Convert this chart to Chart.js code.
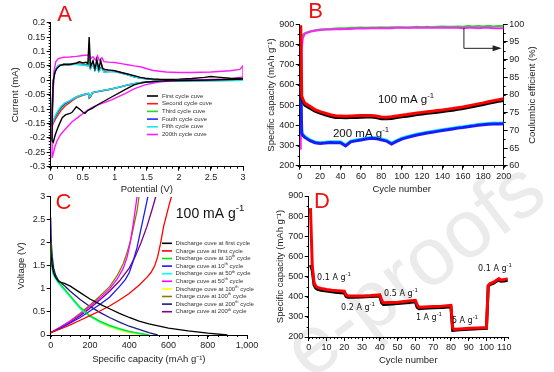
<!DOCTYPE html>
<html>
<head>
<meta charset="utf-8">
<script src="https://cdn.jsdelivr.net/npm/chart.js@4.4.0/dist/chart.umd.min.js"></script>
<style>
  body { margin: 0; background: #fff; }
  #wrap { position: relative; width: 554px; height: 372px; overflow: hidden; background: #fff; }
  canvas { position: absolute; left: 0; top: 0; }
</style>
</head>
<body>
<div id="wrap">
  <canvas id="wm" width="554" height="372"></canvas>
  <canvas id="cA" width="554" height="372"></canvas>
  <canvas id="cB" width="554" height="372"></canvas>
  <canvas id="cC" width="554" height="372"></canvas>
  <canvas id="cD" width="554" height="372"></canvas>
</div>
<script>
const FONT = '"Liberation Sans", Arial, sans-serif';

// ---- A: cyclic voltammetry (potential V, current mA), each loop goes up then back ----
const aFirstV = [0.02, 0.025, 0.04, 0.07, 0.1, 0.15, 0.2, 0.3, 0.4, 0.45, 0.5, 0.55, 0.58, 0.6, 0.62, 0.66, 0.69, 0.72, 0.75, 0.78, 0.81, 0.85, 0.9, 1.0, 1.1, 1.2, 1.3, 1.4, 1.5, 1.6, 1.8, 2.0, 2.2, 2.4, 2.5, 2.6, 2.8, 3.0,
  3.0, 2.8, 2.5, 2.0, 1.7, 1.5, 1.4, 1.3, 1.16, 0.95, 0.74, 0.64, 0.58, 0.535, 0.5, 0.45, 0.4, 0.33, 0.3, 0.23, 0.18, 0.12, 0.07, 0.04, 0.02];
const aFirstI = [-0.21, -0.1, 0.0, 0.03, 0.042, 0.052, 0.055, 0.055, 0.06, 0.064, 0.06, 0.063, 0.058, 0.15, 0.048, 0.068, 0.04, 0.072, 0.04, 0.068, 0.04, 0.038, 0.036, 0.033, 0.027, 0.022, 0.016, 0.01, 0.006, 0.004, 0.003, 0.004, 0.006, 0.01, 0.013, 0.011, 0.007, 0.006,
  0.004, 0.003, 0.001, -0.001, -0.003, -0.006, -0.01, -0.016, -0.032, -0.058, -0.084, -0.098, -0.104, -0.115, -0.11, -0.1, -0.092, -0.112, -0.115, -0.12, -0.13, -0.16, -0.19, -0.215, -0.21];

const aCycV = [0.02, 0.03, 0.05, 0.08, 0.12, 0.2, 0.3, 0.4, 0.5, 0.58, 0.6, 0.62, 0.66, 0.69, 0.72, 0.75, 0.8, 0.83, 0.9, 1.0, 1.1, 1.2, 1.3, 1.4, 1.5, 1.7, 2.0, 2.5, 3.0,
  3.0, 2.5, 2.0, 1.6, 1.4, 1.3, 1.2, 1.1, 1.0, 0.9, 0.8, 0.7, 0.65, 0.62, 0.6, 0.59, 0.5, 0.43, 0.38, 0.33, 0.28, 0.22, 0.16, 0.12, 0.08, 0.05, 0.03, 0.02];
const aSecondI = [-0.16, -0.06, 0.015, 0.038, 0.05, 0.056, 0.056, 0.057, 0.056, 0.055, 0.072, 0.045, 0.06, 0.04, 0.055, 0.035, 0.05, 0.032, 0.033, 0.032, 0.027, 0.02, 0.013, 0.009, 0.006, 0.003, 0.001, 0.002, 0.004,
  0.001, 0.0, -0.002, -0.004, -0.008, -0.012, -0.017, -0.023, -0.028, -0.033, -0.037, -0.041, -0.044, -0.058, -0.062, -0.047, -0.052, -0.058, -0.064, -0.072, -0.08, -0.09, -0.105, -0.118, -0.132, -0.145, -0.155, -0.16];
const aThirdI = [-0.15, -0.05, 0.018, 0.039, 0.051, 0.055, 0.055, 0.056, 0.054, 0.052, 0.067, 0.042, 0.057, 0.037, 0.052, 0.032, 0.047, 0.03, 0.031, 0.031, 0.026, 0.02, 0.012, 0.008, 0.005, 0.002, 0.0, 0.001, 0.003,
  0.0, -0.001, -0.002, -0.004, -0.008, -0.012, -0.016, -0.022, -0.027, -0.032, -0.036, -0.04, -0.043, -0.056, -0.06, -0.046, -0.051, -0.056, -0.061, -0.068, -0.075, -0.084, -0.097, -0.11, -0.124, -0.138, -0.147, -0.15];
const aFourthI = [-0.15, -0.05, 0.019, 0.04, 0.051, 0.055, 0.055, 0.056, 0.054, 0.051, 0.066, 0.041, 0.056, 0.036, 0.051, 0.031, 0.046, 0.029, 0.03, 0.03, 0.025, 0.019, 0.012, 0.008, 0.005, 0.002, 0.0, 0.001, 0.003,
  0.0, -0.001, -0.002, -0.004, -0.008, -0.012, -0.016, -0.022, -0.027, -0.032, -0.036, -0.04, -0.043, -0.056, -0.059, -0.045, -0.05, -0.055, -0.06, -0.067, -0.074, -0.081, -0.094, -0.107, -0.121, -0.137, -0.148, -0.152];
const aFifthI = [-0.155, -0.05, 0.02, 0.04, 0.052, 0.055, 0.055, 0.055, 0.053, 0.05, 0.065, 0.04, 0.055, 0.035, 0.05, 0.03, 0.045, 0.028, 0.03, 0.03, 0.025, 0.019, 0.012, 0.008, 0.005, 0.002, 0.0, 0.001, 0.003,
  0.0, -0.001, -0.002, -0.004, -0.008, -0.012, -0.016, -0.022, -0.027, -0.032, -0.036, -0.04, -0.043, -0.055, -0.058, -0.045, -0.05, -0.055, -0.06, -0.066, -0.072, -0.078, -0.09, -0.103, -0.118, -0.135, -0.148, -0.155];

const a200V = [0.02, 0.03, 0.05, 0.08, 0.12, 0.2, 0.3, 0.4, 0.5, 0.58, 0.6, 0.62, 0.66, 0.7, 0.73, 0.76, 0.8, 0.83, 0.9, 1.0, 1.1, 1.2, 1.3, 1.4, 1.5, 1.6, 1.8, 2.0, 2.2, 2.5, 2.8, 2.95, 3.0,
  3.0, 2.8, 2.5, 2.0, 1.68, 1.47, 1.3, 1.16, 0.95, 0.74, 0.64, 0.535, 0.43, 0.33, 0.22, 0.15, 0.1, 0.067, 0.04, 0.02];
const a200I = [-0.27, -0.1, 0.03, 0.065, 0.075, 0.08, 0.081, 0.083, 0.086, 0.088, 0.092, 0.075, 0.082, 0.07, 0.085, 0.068, 0.078, 0.065, 0.063, 0.062, 0.058, 0.054, 0.05, 0.047, 0.04, 0.034, 0.029, 0.027, 0.027, 0.029, 0.033, 0.038, 0.05,
  0.012, 0.005, 0.003, 0.0, -0.006, -0.016, -0.03, -0.046, -0.068, -0.085, -0.095, -0.11, -0.128, -0.145, -0.172, -0.19, -0.21, -0.23, -0.255, -0.27];

// ---- B: cycling at 100 / 200 mA g-1 ----
const bCycles = [1, 2, 3, 5, 10, 15, 20, 25, 30, 35, 40, 45, 50, 55, 60, 65, 70, 75, 80, 85, 90, 95, 100, 105, 110, 115, 120, 125, 130, 135, 140, 145, 150, 155, 160, 165, 170, 175, 180, 185, 190, 195, 200];
const bRed100 = [895, 545, 530, 510, 494, 478, 468, 460, 452, 447, 446, 445, 446, 447, 448, 449, 449, 446, 441, 440, 442, 446, 450, 453, 457, 461, 464, 467, 470, 473, 476, 480, 483, 487, 491, 496, 501, 506, 511, 517, 522, 527, 531];
const bBlack100 = [555, 535, 520, 500, 485, 470, 460, 452, 444, 439, 438, 437, 438, 439, 440, 441, 441, 438, 433, 432, 434, 438, 442, 445, 449, 453, 456, 459, 462, 465, 468, 472, 475, 479, 483, 488, 493, 498, 503, 509, 514, 519, 523];
const bCyan200 = [620, 368, 355, 345, 328, 318, 314, 316, 319, 318, 318, 302, 322, 327, 331, 336, 340, 338, 332, 326, 312, 324, 336, 343, 350, 356, 361, 366, 370, 374, 378, 382, 386, 390, 393, 397, 400, 404, 407, 409, 411, 410, 412];
const bBlue200 = [600, 360, 350, 340, 324, 314, 310, 312, 315, 314, 314, 298, 318, 323, 327, 332, 336, 334, 328, 322, 307, 320, 332, 339, 346, 352, 357, 362, 366, 370, 374, 378, 382, 386, 389, 393, 396, 400, 403, 405, 407, 406, 408];
const bCeGreen = [96, 96.5, 97, 97.5, 98, 98.3, 98.5, 98.6, 98.7, 98.8, 98.9, 98.9, 99, 99, 99.1, 99, 99.1, 99.1, 99.2, 99.1, 99.2, 99.2, 99.2, 99.1, 99.2, 99.3, 99.2, 99.3, 99.2, 99.3, 99.4, 99.3, 99.3, 99.4, 99.3, 99.5, 99.4, 99.5, 99.4, 99.6, 99.4, 99.5, 99.6];
const bCeMagenta = [64.5, 93, 96, 97.3, 97.9, 98.2, 98.4, 98.5, 98.5, 98.6, 98.6, 98.7, 98.7, 98.8, 98.8, 98.8, 98.9, 98.9, 98.9, 98.9, 98.9, 99, 99, 99, 99, 99, 99, 99, 99, 99, 99, 99, 99, 99, 98.9, 99, 99, 98.9, 99, 99, 98.9, 98.9, 98.9];

// ---- C: discharge / charge profiles (capacity mAh g-1, voltage V) ----
const cDis1Cap = [0, 3, 8, 15, 25, 40, 70, 100, 150, 200, 250, 300, 350, 400, 450, 500, 600, 700, 800, 900];
const cDis1V = [2.0, 1.7, 1.5, 1.35, 1.25, 1.16, 1.12, 1.06, 0.92, 0.78, 0.67, 0.57, 0.47, 0.38, 0.3, 0.24, 0.15, 0.09, 0.04, 0.0];
const cChg1Cap = [0, 50, 100, 150, 200, 250, 300, 350, 400, 450, 490, 510, 530, 545, 560, 575, 590, 605, 615];
const cChg1V = [0.05, 0.13, 0.22, 0.32, 0.42, 0.52, 0.63, 0.76, 0.9, 1.08, 1.25, 1.35, 1.5, 1.7, 2.0, 2.35, 2.6, 2.85, 3.0];
const cDis10Cap = [0, 3, 10, 20, 40, 70, 100, 150, 200, 250, 300, 350, 400, 450, 500];
const cDis10V = [1.9, 1.6, 1.4, 1.28, 1.15, 1.0, 0.85, 0.6, 0.42, 0.3, 0.21, 0.14, 0.08, 0.04, 0.005];
const cChg10Cap = [0, 50, 100, 150, 200, 250, 300, 350, 380, 400, 420, 440, 460, 480, 495];
const cChg10V = [0.05, 0.15, 0.26, 0.38, 0.52, 0.66, 0.82, 1.05, 1.2, 1.35, 1.6, 1.9, 2.3, 2.7, 3.0];
const cDis50Cap = [0, 3, 10, 20, 40, 70, 100, 150, 200, 250, 300, 350, 400, 450, 490];
const cDis50V = [1.8, 1.55, 1.35, 1.25, 1.12, 0.97, 0.82, 0.57, 0.4, 0.28, 0.19, 0.12, 0.07, 0.03, 0.0];
const cChg50Cap = [0, 50, 100, 150, 200, 250, 300, 340, 370, 390, 405, 420, 430, 440];
const cChg50V = [0.05, 0.17, 0.3, 0.45, 0.62, 0.8, 1.0, 1.22, 1.45, 1.7, 2.0, 2.4, 2.7, 3.0];
const cDis100Cap = [0, 3, 10, 20, 40, 70, 100, 150, 200, 250, 300, 350, 400, 440, 470];
const cDis100V = [2.0, 1.6, 1.38, 1.26, 1.13, 0.98, 0.83, 0.58, 0.4, 0.27, 0.17, 0.1, 0.05, 0.02, 0.0];
const cChg100Cap = [0, 50, 100, 150, 200, 250, 300, 340, 370, 390, 410, 425, 440, 450];
const cChg100V = [0.05, 0.17, 0.31, 0.47, 0.65, 0.84, 1.05, 1.3, 1.55, 1.8, 2.1, 2.4, 2.7, 3.0];
const cDis200Cap = [0, 3, 8, 15, 25, 40, 70, 100, 150, 200, 250, 300, 350, 400, 450, 500, 545];
const cDis200V = [2.55, 2.0, 1.7, 1.45, 1.3, 1.18, 1.07, 0.95, 0.77, 0.62, 0.49, 0.38, 0.28, 0.19, 0.12, 0.05, 0.0];
const cChg200Cap = [0, 50, 100, 150, 200, 250, 300, 350, 400, 430, 460, 490, 515, 535];
const cChg200V = [0.05, 0.16, 0.28, 0.42, 0.58, 0.76, 0.95, 1.17, 1.45, 1.7, 2.0, 2.35, 2.7, 3.0];

// ---- D: rate capability ----
const dCycles = [1, 2, 3, 4, 5, 7, 10, 13, 16, 20, 21, 22, 25, 30, 35, 40, 41, 42, 45, 50, 55, 60, 61, 62, 65, 70, 75, 80, 81, 82, 85, 90, 95, 100, 101, 102, 104, 105, 107, 108, 110, 112, 113];
const dRed = [840, 555, 470, 452, 446, 441, 436, 432, 430, 427, 410, 404, 403, 404, 406, 409, 385, 370, 371, 373, 377, 382, 360, 348, 349, 351, 353, 357, 245, 238, 240, 243, 245, 247, 455, 465, 472, 478, 490, 482, 485, 490, 484];
const dBlack = [557, 530, 458, 442, 437, 432, 428, 424, 421, 419, 402, 397, 397, 399, 401, 403, 370, 362, 363, 366, 370, 375, 347, 341, 343, 345, 347, 350, 233, 234, 236, 239, 241, 243, 452, 460, 467, 473, 483, 477, 478, 482, 477];

// text with ^{...} superscripts, vertically centred on y
function rich(ctx, str, x, y, size, family, color, align) {
  const parts = str.split(/\^\{([^}]*)\}/);
  const sup = size * 0.68;
  let w = 0;
  parts.forEach((t, i) => { ctx.font = (i % 2 ? sup : size) + 'px ' + family; w += ctx.measureText(t).width; });
  let cx = align === 'center' ? x - w / 2 : align === 'right' ? x - w : x;
  ctx.fillStyle = color;
  ctx.textAlign = 'left';
  ctx.textBaseline = 'middle';
  parts.forEach((t, i) => {
    ctx.font = (i % 2 ? sup : size) + 'px ' + family;
    ctx.fillText(t, cx, i % 2 ? y - size * 0.38 : y);
    cx += ctx.measureText(t).width;
  });
}

const decor = {
  id: 'decor',
  afterDraw(chart, args, o) {
    const ctx = chart.ctx;
    ctx.save();
    // minor ticks
    ctx.strokeStyle = '#000';
    ctx.lineWidth = 1;
    (o.minor || []).forEach(m => {
      const s = chart.scales[m.axis];
      const n = Math.round((s.max - s.min) / m.step);
      ctx.beginPath();
      for (let i = 0; i <= n; i++) {
        const p = Math.round(s.getPixelForValue(s.min + i * m.step)) + 0.5;
        if (s.isHorizontal()) { ctx.moveTo(p, s.top); ctx.lineTo(p, s.top + m.len); }
        else if (s.position === 'left') { ctx.moveTo(s.right - m.len, p); ctx.lineTo(s.right, p); }
        else { ctx.moveTo(s.left, p); ctx.lineTo(s.left + m.len, p); }
      }
      ctx.stroke();
    });
    // arrow
    if (o.arrow) {
      const xs = chart.scales[o.arrow.xAxis], ys = chart.scales[o.arrow.yAxis];
      const pts = o.arrow.pts.map(p => [xs.getPixelForValue(p[0]), ys.getPixelForValue(p[1])]);
      ctx.strokeStyle = '#222';
      ctx.beginPath();
      pts.forEach((p, i) => i ? ctx.lineTo(p[0], p[1]) : ctx.moveTo(p[0], p[1]));
      ctx.stroke();
      const [x1, y1] = pts[pts.length - 2], [x2, y2] = pts[pts.length - 1];
      const a = Math.atan2(y2 - y1, x2 - x1);
      ctx.fillStyle = '#222';
      ctx.beginPath();
      ctx.moveTo(x2 + 2 * Math.cos(a), y2 + 2 * Math.sin(a));
      ctx.lineTo(x2 - 7 * Math.cos(a) + 3 * Math.sin(a), y2 - 7 * Math.sin(a) - 3 * Math.cos(a));
      ctx.lineTo(x2 - 7 * Math.cos(a) - 3 * Math.sin(a), y2 - 7 * Math.sin(a) + 3 * Math.cos(a));
      ctx.fill();
    }
    // legend drawn inside the plot
    if (o.legend) {
      const L = o.legend;
      chart.data.datasets.forEach((ds, i) => {
        const y = L.y + i * L.row;
        ctx.strokeStyle = ds.borderColor;
        ctx.lineWidth = L.lw;
        ctx.beginPath();
        ctx.moveTo(L.x, y);
        ctx.lineTo(L.x + L.len, y);
        ctx.stroke();
        rich(ctx, ds.label, L.x + L.len + L.gap, y, L.size, FONT, '#333', 'left');
      });
    }
    // free texts
    (o.texts || []).forEach(t => {
      ctx.save();
      ctx.translate(t.x, t.y);
      if (t.rot) ctx.rotate(t.rot);
      rich(ctx, t.text, 0, 0, t.size, t.font || FONT, t.color || '#111', 'center');
      ctx.restore();
    });
    ctx.restore();
  }
};
Chart.register(decor);

function pairs(xs, ys) { return xs.map((x, i) => ({ x: x, y: ys[i] })); }
function line(label, xs, ys, color, width, order, yAxisID) {
  return { label, data: pairs(xs, ys), borderColor: color, backgroundColor: color, borderWidth: width,
    pointRadius: 0, fill: false, tension: 0, order: order, yAxisID: yAxisID || 'y' };
}
function num(v) { return String(+v.toFixed(2)); }

function axis(pos, min, max, step, size, title, titlePad, fmt) {
  const a = {
    type: 'linear', position: pos, min: min, max: max,
    border: { display: true, color: '#000', width: 1 },
    grid: { drawOnChartArea: false, drawTicks: true, tickLength: 4, tickColor: '#000', tickWidth: 1 },
    ticks: { stepSize: step, includeBounds: false, autoSkip: false, maxRotation: 0, padding: 1.5,
      color: '#222', font: { family: FONT, size: 9 }, callback: fmt || num },
    afterFit: s => { if (pos === 'bottom') s.height = size; else s.width = size; }
  };
  if (title) a.title = { display: true, text: title, color: '#222', font: { family: FONT, size: 9.5 },
    padding: { top: titlePad || 0, bottom: 0 } };
  return a;
}

function options(pad, scales, deco) {
  return {
    responsive: false, animation: false, events: [], devicePixelRatio: 1,
    layout: { padding: pad },
    scales: scales,
    plugins: { legend: { display: false }, tooltip: { enabled: false }, decor: deco }
  };
}

// watermark behind the plots
(function () {
  const w = document.getElementById('wm').getContext('2d');
  w.save();
  w.translate(310, 381);
  w.rotate(-37 * Math.PI / 180);
  w.font = '82px ' + FONT;
  w.fillStyle = '#ebebeb';
  w.textBaseline = 'alphabetic';
  w.textAlign = 'left';
  w.fillText('e-proofs', 0, 0);
  w.restore();
})();

const letter = (t, x, y) => ({ text: t, x: x, y: y, size: 22, color: '#ee1111' });

// A
new Chart(document.getElementById('cA'), {
  type: 'line',
  data: { datasets: [
    line('First cycle cuve', aFirstV, aFirstI, '#000000', 1.4, 0),
    line('Second cycle cuve', aCycV, aSecondI, '#ff1a1a', 1.4, 5),
    line('Third cycle cuve', aCycV, aThirdI, '#22dd22', 1.4, 4),
    line('Fouth cycle cuve', aCycV, aFourthI, '#2a2aff', 1.4, 3),
    line('Fifth cycle cuve', aCycV, aFifthI, '#1ee6e6', 1.4, 2),
    line('200th cycle cuve', a200V, a200I, '#ff1aff', 1.4, 1)
  ] },
  options: options({ left: 5, top: 22.7, right: 311, bottom: 176.8 }, {
    x: axis('bottom', 0, 3, 0.5, 28.5, 'Potential (V)'),
    y: axis('left', -0.3, 0.2, 0.05, 45.7, 'Current (mA)', 4.8)
  }, {
    minor: [{ axis: 'x', step: 0.1, len: 2 }, { axis: 'y', step: 0.01, len: 2 }],
    legend: { x: 147, y: 96, row: 7.7, len: 11, gap: 4, lw: 1.6, size: 6 },
    texts: [letter('A', 64.5, 15)]
  })
});

// B
new Chart(document.getElementById('cB'), {
  type: 'line',
  data: { datasets: [
    line('Coulombic efficiency', bCycles, bCeGreen, '#33cc33', 2, 5, 'y2'),
    line('Coulombic efficiency 200', bCycles, bCeMagenta, '#ff22ff', 2, 4, 'y2'),
    line('Capacity 100 black', bCycles, bBlack100, '#000000', 3, 1),
    line('Capacity 100 red', bCycles, bRed100, '#ff0000', 3, 0),
    line('Capacity 200 cyan', bCycles, bCyan200, '#00e5ff', 3, 3),
    line('Capacity 200 blue', bCycles, bBlue200, '#1a1aff', 3, 2)
  ] },
  options: options({ left: 266, top: 24.3, right: 10.3, bottom: 176.8 }, {
    x: axis('bottom', 0, 200, 20, 29.5, 'Cycle number'),
    y: axis('left', 200, 900, 100, 33.7, 'Specific capacity (mAh g\u207B\u00B9)', 0),
    y2: axis('right', 60, 100, 5, 40)
  }, {
    minor: [{ axis: 'x', step: 10, len: 2 }, { axis: 'y', step: 50, len: 2 }, { axis: 'y2', step: 2.5, len: 2 }],
    arrow: { xAxis: 'x', yAxis: 'y2', pts: [[161, 99], [161, 93.2], [196, 93.2]] },
    texts: [
      letter('B', 315.5, 12),
      { text: '100 mA g^{-1}', x: 406, y: 100, size: 11.5 },
      { text: '200 mA g^{-1}', x: 361, y: 134, size: 11.5 },
      { text: 'Coulumbic efficient (%)', x: 532, y: 95, size: 9.5, rot: -Math.PI / 2, color: '#222' }
    ]
  })
});

// C
new Chart(document.getElementById('cC'), {
  type: 'line',
  data: { datasets: [
    line('Discharge cuve at first cycle', cDis1Cap, cDis1V, '#000000', 1.3),
    line('Charge cuve at first cycle', cChg1Cap, cChg1V, '#ff0000', 1.3),
    line('Discharge cuve at 10^{th} cycle', cDis10Cap, cDis10V, '#00e600', 1.3),
    line('Charge cuve at 10^{th} cycle', cChg10Cap, cChg10V, '#1a1aff', 1.3),
    line('Discharge cuve at 50^{th} cycle', cDis50Cap, cDis50V, '#00ffff', 1.3),
    line('Charge cuve at 50^{th} cycle', cChg50Cap, cChg50V, '#ff00ff', 1.3),
    line('Discharge cuve at 100^{th} cycle', cDis100Cap, cDis100V, '#ffff00', 1.3),
    line('Charge cuve at 100^{th} cycle', cChg100Cap, cChg100V, '#808000', 1.3),
    line('Discharge cuve at 200^{th} cycle', cDis200Cap, cDis200V, '#1a1a80', 1.3),
    line('Charge cuve at 200^{th} cycle', cChg200Cap, cChg200V, '#800080', 1.3)
  ] },
  options: options({ left: 5, top: 196.7, right: 307, bottom: 7.3 }, {
    x: axis('bottom', 0, 1000, 200, 29.7, 'Specific capacity (mAh g\u207B\u00B9)', 0, v => v.toLocaleString('en-US')),
    y: axis('left', 0, 3, 0.5, 45.7, 'Voltage (V)', 10.3)
  }, {
    minor: [{ axis: 'x', step: 50, len: 2 }],
    legend: { x: 162, y: 243.3, row: 7.6, len: 10, gap: 3.5, lw: 1.6, size: 6 },
    texts: [letter('C', 63.5, 203), { text: '100 mA g^{-1}', x: 210, y: 214, size: 14 }]
  })
});

// D
const DV = '"DejaVu Sans", Verdana, sans-serif';
new Chart(document.getElementById('cD'), {
  type: 'line',
  data: { datasets: [
    line('Charge', dCycles, dBlack, '#000000', 3, 1),
    line('Discharge', dCycles, dRed, '#ff0000', 3, 0)
  ] },
  options: options({ left: 275, top: 196, right: 46.2, bottom: 6.3 }, {
    x: axis('bottom', 0, 112, 10, 28.7, 'Cycle number'),
    y: axis('left', 200, 900, 100, 33.7, 'Specific capacity (mAh g\u207B\u00B9)', 0)
  }, {
    minor: [{ axis: 'x', step: 2, len: 2 }, { axis: 'y', step: 50, len: 2 }],
    texts: [
      letter('D', 322, 202),
      { text: '0.1 A g^{-1}', x: 334, y: 278, size: 8, font: DV },
      { text: '0.2 A g^{-1}', x: 358, y: 308, size: 8, font: DV },
      { text: '0.5 A g^{-1}', x: 401, y: 294, size: 8, font: DV },
      { text: '1 A g^{-1}', x: 429, y: 318, size: 8, font: DV },
      { text: '5 A g^{-1}', x: 465, y: 321, size: 8, font: DV },
      { text: '0.1 A g^{-1}', x: 495, y: 269, size: 8, font: DV }
    ]
  })
});
</script>
</body>
</html>
